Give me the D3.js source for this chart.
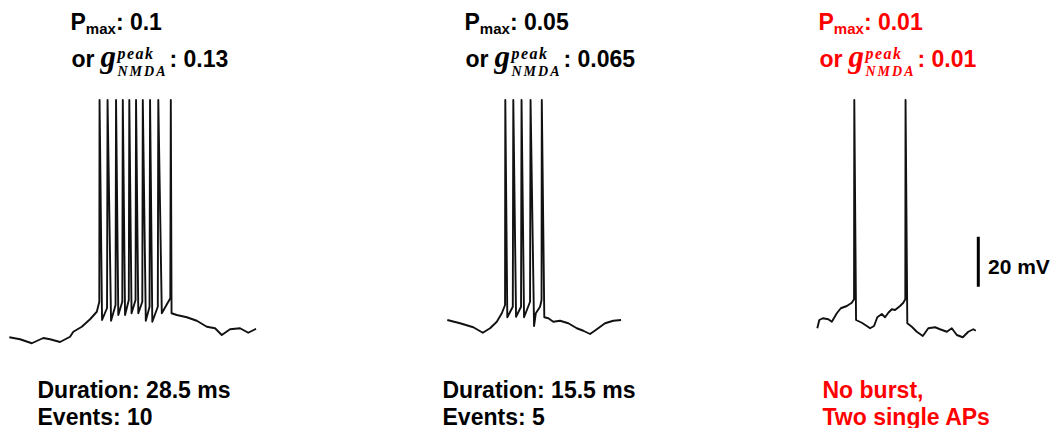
<!DOCTYPE html>
<html>
<head>
<meta charset="utf-8">
<script src="https://cdn.jsdelivr.net/npm/d3@7"></script>
<style>
  html, body { margin: 0; padding: 0; background: #fff; }
  svg { display: block; }
  .lbl { font-family: "Liberation Sans", Arial, sans-serif; font-weight: bold; }
  .math { font-family: "Liberation Serif", "Times New Roman", serif; font-style: italic; font-weight: bold; }
</style>
</head>
<body>
<div id="root"></div>
<script>
const width = 1060;
const height = 428;

// membrane potential traces, time in ms, voltage in mV
const trace1T = [0, 4.3, 9.0, 13.6, 16.3, 20.3, 24.3, 25.6, 29.0, 32.3, 35.0, 36.0, 36.1, 37.1,
  39.1, 39.3, 40.7, 42.5, 42.7, 43.6, 45.2, 45.4, 46.3, 47.8, 48.0, 48.9, 50.5, 50.7, 51.6,
  53.2, 53.4, 54.6, 56.1, 56.3, 57.2, 59.4, 59.6, 61.0, 64.4, 64.6, 64.9, 67.0, 71.0, 75.0,
  79.0, 82.3, 85.0, 88.3, 92.3, 95.6, 98.7];
const trace1V = [-64.9, -65.7, -67.3, -65.2, -65.7, -66.8, -64.7, -62.7, -60.7, -57.7, -54.7, -50.7, 30, -58.0,
  -53.2, 30, -58.3, -52.0, 30, -56.0, -50.7, 30, -56.0, -50.0, 30, -55.3, -50.0, 30, -55.3,
  -50.7, 30, -58.3, -52.7, 30, -58.7, -52.7, 30, -55.3, -49.3, 30, -55.3, -56.0, -56.9, -58.3,
  -60.7, -61.3, -64.0, -61.7, -61.3, -63.1, -61.5];

const trace2T = [0, 5.1, 10.4, 14.2, 17.1, 19.8, 21.8, 23.1, 23.2, 24.0, 26.2, 26.4, 27.5,
  29.5, 29.7, 30.7, 33.1, 33.3, 34.7, 35.4, 37.1, 37.7, 37.8, 38.8, 40.4, 42.4, 45.1, 48.4,
  51.8, 54.4, 57.1, 59.8, 63.1, 66.4, 69.5];
const trace2V = [-58.0, -59.3, -60.9, -63.1, -61.3, -58.7, -55.3, -52.0, 30, -56.9, -52.7, 30, -56.7,
  -52.7, 30, -56.9, -50.7, 30, -60.4, -55.3, -52.7, -50.0, 30, -56.9, -57.3, -58.7, -58.3, -59.3,
  -61.3, -62.3, -63.6, -61.7, -59.3, -58.3, -58.0];

const trace3T = [0, 0.8, 2.2, 4.4, 5.8, 7.8, 9.4, 11.8, 13.8, 14.7, 14.8, 15.5, 17.8, 19.8,
  21.1, 22.7, 24.0, 25.8, 27.1, 28.4, 29.8, 31.1, 33.1, 34.4, 35.2, 35.3, 36.0, 37.8, 39.8,
  42.2, 44.4, 47.1, 49.1, 51.8, 53.8, 55.8, 58.2, 60.4, 62.4, 63.4];
const trace3V = [-61.3, -58.0, -57.3, -57.7, -58.7, -55.3, -53.3, -52.4, -51.1, -49.7, 30, -58.0, -59.1, -60.4,
  -61.3, -60.4, -56.9, -55.6, -56.9, -55.1, -53.7, -54.0, -52.4, -51.1, -49.7, 30, -59.3, -60.7, -62.7,
  -64.4, -61.3, -60.9, -61.7, -62.7, -61.3, -64.0, -64.9, -62.7, -61.7, -62.3];

// panel texts
const pmaxValues = ['0.1', '0.05', '0.01'];
const gPeakValues = ['0.13', '0.065', '0.01'];
const resultLine1 = ['Duration: 28.5 ms', 'Duration: 15.5 ms', 'No burst,'];
const resultLine2 = ['Events: 10', 'Events: 5', 'Two single APs'];
const panelColors = ['#000', '#000', '#ff0000'];

const scaleBarMv = 20;

// layout
const msPx = 2.5;
const traceLeft = [9.3, 447.3, 817.3];
const titleLeft = [70.5, 464.5, 818.5];
const resultLeft = [37.5, 442.5, 822.5];

const y = d3.scaleLinear().domain([-65, 30]).range([337.5, 100]);

const svg = d3.select('#root').append('svg')
  .attr('width', width)
  .attr('height', height);

const traces = [
  { t: trace1T, v: trace1V },
  { t: trace2T, v: trace2V },
  { t: trace3T, v: trace3V },
];

traces.forEach((tr, i) => {
  const tMax = d3.max(tr.t);
  const x = d3.scaleLinear().domain([0, tMax]).range([traceLeft[i], traceLeft[i] + tMax * msPx]);
  const pts = tr.t.map((t, k) => [t, tr.v[k]]);
  const line = d3.line().x(d => x(d[0])).y(d => y(d[1]));
  svg.append('path')
    .attr('d', line(pts))
    .attr('fill', 'none')
    .attr('stroke', '#111')
    .attr('stroke-width', 1.9)
    .attr('stroke-linejoin', 'round');
});

// titles
function titleBlock(i) {
  const color = panelColors[i];
  const x0 = titleLeft[i];
  const g = svg.append('g').attr('fill', color);

  // line 1: P_max: value
  const t1 = g.append('text').attr('class', 'lbl').attr('x', x0).attr('y', 30).style('font-size', '23px');
  t1.append('tspan').text('P');
  t1.append('tspan').attr('dy', 4).style('font-size', '15px').text('max');
  t1.append('tspan').attr('dy', -4).text(': ' + pmaxValues[i]);

  // line 2: or g_NMDA^peak: value
  const base = 66.7;
  const or = g.append('text').attr('class', 'lbl').attr('x', x0 + 1).attr('y', base)
    .style('font-size', '23px').text('or');
  let cx = x0 + 1 + or.node().getComputedTextLength() + 6;
  const gl = g.append('text').attr('class', 'math').attr('x', cx).attr('y', base)
    .style('font-size', '31px').text('g');
  cx += gl.node().getComputedTextLength() + 1.5;
  const sup = g.append('text').attr('class', 'math').attr('x', cx).attr('y', base - 7.5)
    .style('font-size', '16px').style('letter-spacing', '1.5px').text('peak');
  const sub = g.append('text').attr('class', 'math').attr('x', cx).attr('y', base + 9.5)
    .style('font-size', '14px').style('letter-spacing', '2px').text('NMDA');
  cx += Math.max(sup.node().getComputedTextLength(), sub.node().getComputedTextLength()) + 2;
  g.append('text').attr('class', 'lbl').attr('x', cx).attr('y', base)
    .style('font-size', '23px').text(': ' + gPeakValues[i]);

  // results under the trace
  g.append('text').attr('class', 'lbl').attr('x', resultLeft[i]).attr('y', 397.5)
    .style('font-size', '23px').text(resultLine1[i]);
  g.append('text').attr('class', 'lbl').attr('x', resultLeft[i]).attr('y', 424.5)
    .style('font-size', '23px').text(resultLine2[i]);
}
[0, 1, 2].forEach(titleBlock);

// scale bar
const barBottom = -44.7;
svg.append('line')
  .attr('x1', 978.3).attr('x2', 978.3)
  .attr('y1', y(barBottom)).attr('y2', y(barBottom + scaleBarMv))
  .attr('stroke', '#000').attr('stroke-width', 3);
svg.append('text').attr('class', 'lbl')
  .attr('x', 988).attr('y', 273.5)
  .style('font-size', '21px')
  .text(scaleBarMv + ' mV');
</script>
</body>
</html>
